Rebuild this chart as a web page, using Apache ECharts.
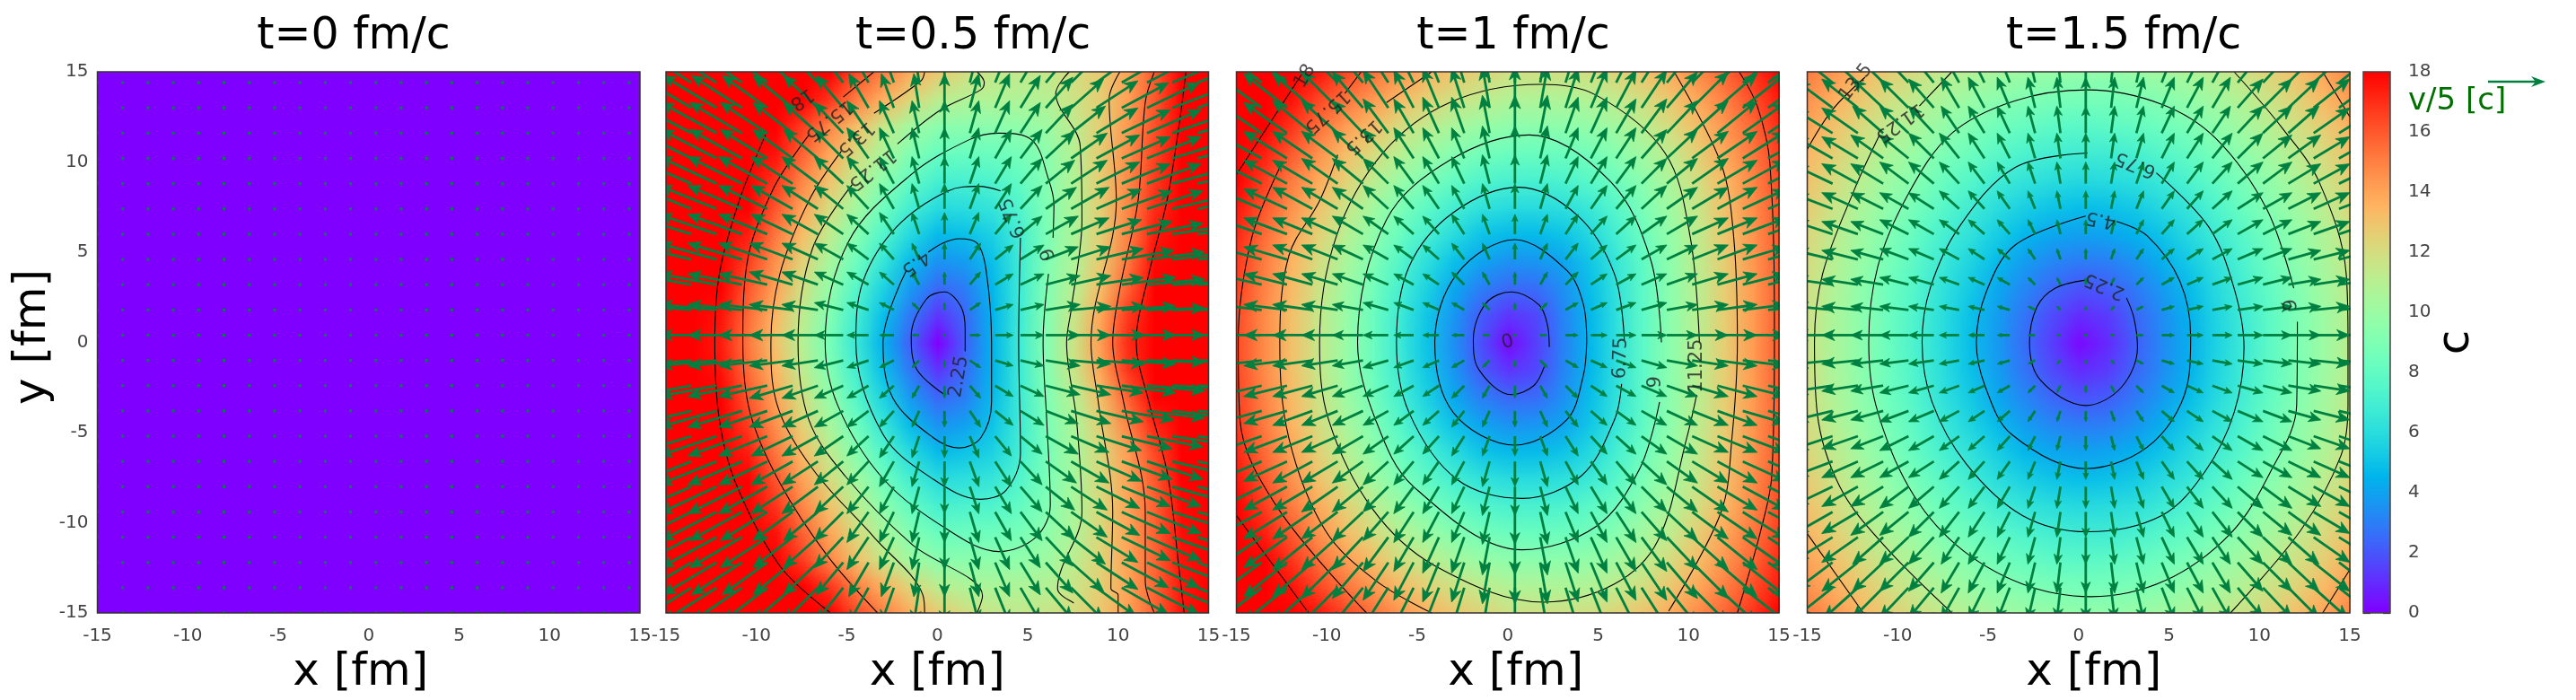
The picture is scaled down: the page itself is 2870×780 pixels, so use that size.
<!DOCTYPE html>
<html><head><meta charset="utf-8">
<script src="https://cdn.jsdelivr.net/npm/echarts@6/dist/echarts.min.js"></script>
<style>html,body{margin:0;background:#fff}#c{width:2870px;height:780px}</style></head>
<body><div id="c"></div>
<script>
const panelTitles=['t=0 fm/c','t=0.5 fm/c','t=1 fm/c','t=1.5 fm/c'];
const axisTicks=[-15,-10,-5,0,5,10,15];
const contourLevels=[2.25,4.5,6.75,9,11.25,13.5,15.75,18];

/* colour field, y from 15 down to -15, x from -15 to 15 in 1.5 fm steps */
const fieldT0=[[0]];
const fieldT05=[
[28,26,24,22.4,21,19.5,18,16.3,15,13.7,12.8,12,11.5,11.4,11.5,12,12.8,14,16,18,20],
[27,25,23.3,21.5,20,18.5,16.8,15,13.6,12.3,11.2,10.8,10.8,10.7,10.9,11.7,12.6,14.1,16,18,20.3],
[26.4,24.3,22.3,20.3,18.5,16.6,14.8,13.1,11.5,10.2,9.4,9.4,9.4,9.6,10.1,11.2,12.6,14.3,16.2,18.2,20.3],
[25.7,23.6,21.5,19.5,17.6,15.7,13.9,12.1,10.5,9.1,8.2,8.2,8.3,8.7,9.4,10.9,12.7,14.6,16.5,18.5,20.5],
[25,23,21,18.7,16.8,14.8,13,11.1,9.4,8,7,7.1,7.3,8,9.2,10.8,12.7,14.7,16.7,18.8,21],
[24.2,22,20,18,16,14,12,10.2,8.4,6.9,5.9,6,6.4,7.4,9,10.7,12.6,14.8,17,19.2,21.5],
[23.6,21.5,19.3,17.3,15.2,13.2,11.2,9.2,7.4,5.8,4.7,4.9,5.5,6.9,8.9,10.6,12.6,14.9,17.4,19.7,22],
[23,20.9,18.7,16.6,14.5,12.4,10.4,8.4,6.4,4.7,3.5,3.8,4.9,6.7,9,10.7,12.8,15.2,17.8,20.2,22.5],
[22.5,20.3,18,16,14,11.8,9.7,7.5,5.5,3.7,2.4,2.9,4.6,6.7,9.1,11,13.2,15.8,18.5,21,23.2],
[22,19.9,17.6,15.5,13.4,11.2,9.1,6.9,4.8,2.8,1.2,2.4,4.5,6.7,9.2,11.5,13.9,16.7,19.3,21.8,24],
[21.8,19.6,17.4,15.2,13,10.9,8.7,6.5,4.4,2.2,0,2.2,4.5,6.75,9.2,11.7,14.2,17,19.5,22,24],
[22,19.9,17.6,15.5,13.4,11.2,9.1,6.9,4.8,2.8,1.2,2.5,4.5,6.7,9.2,11.6,14,16.8,19.4,21.9,24],
[22.5,20.3,18,16,14,11.8,9.7,7.5,5.5,3.7,2.4,3,4.7,6.7,9,11,13.2,15.8,18.2,20.8,23],
[23,20.9,18.7,16.6,14.5,12.4,10.4,8.4,6.4,4.7,3.5,3.9,5,6.7,8.8,10.6,12.6,14.9,17.2,19.4,21.6],
[23.6,21.5,19.3,17.3,15.2,13.2,11.2,9.2,7.4,5.8,4.7,5,5.5,6.9,8.7,10.4,12.2,14.2,16.4,18.5,20.7],
[24.2,22,20,18,16,14,12,10.2,8.4,6.9,5.9,6.1,6.4,7.4,8.8,10.4,12.2,14,16,18,20.2],
[25,23,21,18.7,16.8,14.8,13,11.1,9.4,8,7,7.2,7.3,8,9.1,10.5,12.2,14,15.8,17.8,19.8],
[25.7,23.6,21.5,19.5,17.6,15.7,13.9,12.1,10.5,9.1,8.2,8.3,8.4,8.7,9.5,10.7,12.3,14,15.8,17.7,19.6],
[26.4,24.3,22.3,20.3,18.5,16.6,14.8,13.1,11.5,10.2,9.4,9.4,9.5,9.6,10.1,11.1,12.4,14,15.7,17.6,19.4],
[27,25,23.3,21.5,20,18.5,16.8,15,13.6,12.3,11.2,10.7,10.6,10.7,10.9,11.6,12.6,14,15.7,17.5,19.3],
[28,26,24,22.4,21,19.5,18,16.3,15,13.7,12.8,12,11.5,11.4,11.6,12.1,12.9,14.1,15.8,17.6,19.3]];
/* upper half only, y from 15 to 0; the lower half reads the same rows */
const fieldT1Upper=[
[21,19.8,18.6,17.5,16.4,15.4,14.4,13.6,12.9,12.4,11.8,11.8,11.8,11.9,12.4,13,13.8,14.7,15.7,16.8,18],
[20.2,18.9,17.6,16.4,15.3,14.3,13.3,12.5,11.8,11.3,10.8,10.7,10.7,10.8,11.3,12,12.9,13.9,15,16.2,17.4],
[19.4,18.1,16.8,15.4,14.2,13.2,12,11.3,10.4,9.9,9.5,9.4,9.5,9.7,10.3,11.1,12.1,13.2,14.4,15.6,17],
[18.7,17.3,15.9,14.5,13.2,12.1,11,10,9.2,8.6,8.3,8.2,8.3,8.6,9.3,10.3,11.3,12.6,13.9,15.2,16.6],
[18.1,16.6,15.1,13.8,12.5,11.2,9.9,8.9,8,7.4,7.1,7.1,7.2,7.7,8.4,9.5,10.7,12,13.4,14.8,16.3],
[17.5,16,14.5,13,11.6,10.2,8.9,7.8,6.9,6.2,5.9,5.9,6.1,6.6,7.6,8.9,10.2,11.6,13.1,14.6,16.1],
[17.1,15.5,14,12.5,11,9.6,8.2,7,5.9,5,4.7,4.7,5,5.8,7,8.4,9.8,11.3,12.9,14.4,16],
[16.7,15.1,13.5,12,10.5,9,7.5,6.1,4.9,4,3.5,3.6,4,5.1,6.5,8,9.6,11.2,12.7,14.3,15.9],
[16.5,14.9,13.3,11.7,10.1,8.6,7,5.5,4.1,3,2.4,2.5,3.4,4.8,6.3,7.9,9.5,11.1,12.7,14.2,15.9],
[16.3,14.7,13.1,11.5,9.9,8.3,6.7,5.1,3.6,2.1,1.2,1.6,3.1,4.6,6.2,7.9,9.5,11.1,12.7,14.2,15.9],
[16.3,14.7,13.1,11.5,9.9,8.3,6.6,5,3.4,1.8,0.2,1.4,3,4.6,6.2,7.9,9.5,11.1,12.7,14.2,15.9]];
const fieldT15Upper=[
[15.1,14.3,13.4,12.6,12,11.3,10.8,10.3,10,9.8,9.7,9.7,9.9,10.2,10.6,11.1,11.7,12.4,13.1,13.9,14.8],
[14.5,13.6,12.8,11.9,11.2,10.5,9.9,9.4,9,8.8,8.7,8.7,8.9,9.2,9.7,10.3,10.9,11.7,12.4,13.3,14.2],
[14,13,12.1,11.2,10.5,9.7,9.1,8.5,8.1,7.8,7.7,7.8,8,8.4,8.9,9.5,10.2,11,11.8,12.6,13.6],
[13.4,12.5,11.5,10.6,9.8,8.9,8.3,7.7,7.2,6.9,6.8,6.8,7,7.5,8,8.7,9.5,10.3,11.2,12.1,13.1],
[13,12,11,10,9.2,8.2,7.5,6.8,6.3,6,5.8,5.9,6.1,6.6,7.2,8,8.8,9.7,10.6,11.6,12.6],
[12.6,11.6,10.5,9.5,8.6,7.6,6.8,6,5.4,5,4.8,4.9,5.2,5.8,6.4,7.3,8.2,9.2,10.1,11.1,12.2],
[12.2,11.2,10.1,9,8,7,6.2,5.3,4.6,4.1,3.9,4,4.4,5,5.8,6.7,7.6,8.6,9.7,10.7,11.8],
[12,10.9,9.8,8.7,7.7,6.6,5.6,4.7,3.8,3.2,2.9,3,3.5,4.3,5.2,6.2,7.2,8.3,9.4,10.4,11.6],
[11.8,10.7,9.5,8.4,7.4,6.2,5.2,4.1,3.2,2.4,1.9,2.1,2.8,3.7,4.7,5.8,6.9,8,9.1,10.2,11.4],
[11.7,10.5,9.4,8.3,7.2,6,4.9,3.8,2.7,1.7,1,1.3,2.3,3.3,4.4,5.6,6.7,7.8,8.9,10,11.2],
[11.6,10.5,9.4,8.2,7.1,5.9,4.8,3.7,2.5,1.4,0.2,0.9,2.1,3.2,4.3,5.5,6.6,7.8,8.9,10,11.2]];

/* arrow components in 0.1 fm; rows by |row offset from y=0.4|, columns by column offset from x=0.4 */
const vxT0=[],vyT0=[];
const vxT05=[
[33,33,32,30,27,24,20,16,12,8,4,0,6,10,13,19,22,27,30,32,33,33],
[33,33,32,30,27,24,20,16,12,8,4,0,6,10,13,19,22,27,30,32,33,33],
[33,33,32,30,27,24,20,16,12,8,4,0,6,10,13,19,22,26,30,32,33,33],
[33,33,32,30,27,24,20,16,12,8,4,0,6,10,13,18,22,26,29,32,33,33],
[33,32,32,30,27,23,20,16,12,8,4,0,5,9,12,18,21,25,28,31,33,33],
[33,32,32,30,27,23,20,16,12,8,4,0,5,9,12,17,21,25,28,31,33,33],
[33,32,32,30,27,23,20,16,12,8,4,0,5,9,12,16,20,24,27,30,32,33],
[32,32,31,29,26,22,19,16,12,8,4,0,5,9,12,16,20,24,27,30,32,32],
[32,32,31,29,26,22,19,16,12,8,4,0,5,8,11,15,19,23,27,30,31,32],
[31,30,30,28,25,22,19,15,11,7,3,0,5,8,11,15,18,23,26,29,31,32],
[31,30,30,28,25,22,19,15,11,7,3,0,5,8,11,15,18,22,26,29,31,32],
[31,30,30,28,25,22,19,15,11,7,3,0,5,8,11,14,17,22,25,28,30,31]];
const vyT05=[
[0,0,0,0,0,0,0,0,0,0,0,0,0,0,0,0,0,0,0,0,0,0],
[3,3,3,3,3,3,3,4,4,4,4,4,4,3,3,3,2,2,2,1,1,1],
[6,6,6,6,6,7,7,7,7,7,7,7,7,6,6,5,5,4,4,3,2,2],
[8,8,9,9,9,9,9,9,9,9,9,9,9,8,8,7,7,6,5,4,4,3],
[10,10,11,11,11,11,11,11,11,12,12,12,12,11,10,10,9,8,7,6,5,5],
[12,13,13,13,13,13,13,13,13,14,14,14,14,14,13,12,12,11,10,10,8,7],
[14,14,15,15,15,15,15,15,15,15,15,15,15,15,14,13,13,12,11,11,9,8],
[15,16,16,16,16,16,16,16,17,17,17,17,17,16,16,15,14,13,12,12,10,9],
[16,17,17,17,17,17,17,17,18,18,18,18,18,18,17,16,15,14,13,13,11,10],
[17,18,18,18,18,18,18,18,19,19,19,19,19,19,18,17,16,15,14,14,12,12],
[18,19,19,19,19,19,19,19,20,20,20,20,20,20,19,18,18,16,15,15,13,13],
[19,20,20,20,20,20,20,20,21,21,21,21,21,21,20,19,19,17,16,16,14,14]];
/* t=1 and t=1.5: columns by |column offset|, the two sides read alike */
const vxT1=[
[0,4,7,9,11,14,17,20,22,24,26,27],[0,4,7,9,11,14,17,20,22,24,26,27],[0,4,7,9,11,14,17,20,22,24,26,27],
[0,4,7,9,11,14,17,20,22,24,26,27],[0,4,7,9,11,14,17,20,22,24,26,27],[0,4,7,9,11,14,17,20,22,24,26,27],
[0,4,7,9,11,14,17,20,22,24,26,27],[0,4,7,9,11,14,17,20,22,24,26,27],[0,4,7,9,11,14,17,20,22,24,25,26],
[0,4,7,9,11,14,17,20,22,24,25,26],[0,4,7,9,11,14,17,20,22,24,25,26],[0,4,7,9,11,14,17,20,22,24,25,26]];
const vyT1=[
[0,0,0,0,0,0,0,0,0,0,0,0],[4,4,4,4,4,4,3,3,3,3,3,3],[7,7,7,6,6,6,6,6,6,6,6,5],[9,9,9,8,8,8,8,8,8,7,7,7],
[11,11,11,10,10,10,10,9,9,9,9,9],[14,14,13,13,13,13,12,12,12,11,11,11],[16,16,15,15,15,14,14,14,13,13,13,12],
[18,18,17,17,17,16,16,15,15,15,14,14],[21,21,20,20,19,19,18,18,18,17,17,16],[23,23,22,22,21,21,20,20,19,19,18,18],
[24,24,23,23,22,22,21,20,20,19,19,18],[25,25,24,24,23,23,22,21,21,20,20,19]];
const vxT15=[
[0,2,4,7,9,11,14,16,18,20,21,22],[0,2,4,7,9,11,14,16,18,20,21,22],[0,2,4,7,9,11,14,16,18,20,21,22],
[0,2,4,7,9,11,14,16,18,20,21,22],[0,2,4,7,9,11,14,16,18,20,21,22],[0,2,4,7,9,11,14,16,18,20,21,22],
[0,2,4,7,9,11,14,16,18,20,21,22],[0,2,4,7,9,11,14,16,18,20,21,21],[0,2,4,7,9,10,14,16,17,20,21,21],
[0,2,4,7,9,10,14,16,17,20,20,21],[0,2,4,7,9,10,14,16,17,19,20,20],[0,2,4,7,9,10,14,16,17,19,20,20]];
const vyT15=[
[0,0,0,0,0,0,0,0,0,0,0,0],[2,2,2,2,2,2,2,2,2,2,2,2],[4,4,4,4,4,4,4,4,3,3,3,3],[6,6,6,6,6,6,6,6,5,5,5,5],
[8,8,8,8,8,8,8,8,7,7,7,7],[10,10,10,10,10,10,9,9,9,9,8,8],[12,12,12,12,12,12,12,12,11,11,10,10],
[14,14,14,14,14,14,14,13,13,12,12,12],[15,15,15,15,15,15,15,15,15,14,13,13],[17,17,17,17,17,17,16,16,16,16,15,15],
[18,18,18,18,18,18,17,17,17,17,16,16],[19,19,19,19,19,18,18,18,18,17,17,17]];

/* contour lines, one list per unbroken stretch */
const contoursT05=[
[[1.54,-0.5],[1.54,0.75],[1.3,2],[0.4,2.8],[-0.6,2.4],[-1.44,0.35],[-1.13,-1.5],[0.4,-2.9]],
[[-0.5,5],[0.3,5.5],[1.2,5.75],[2.2,5.5],[2.7,4],[3,0],[3,-3.3],[2.4,-5.3],[1.2,-5.85],[-0.2,-5.3],[-2.45,-3.1],[-3,0],[-1.7,4]],
[[4.6,5.8],[4.5,0],[4.6,-6.15],[3.8,-8.2],[2.4,-8.7],[-0.2,-7.6],[-3,-5.1],[-4.5,0],[-4.1,3.4],[-2.25,6.4],[0.6,8.4],[2.3,8.65],[3.5,8.4]],
[[6.15,3.8],[5.85,0],[6.05,-4.3],[6.25,-9],[5.45,-10.8],[3.4,-11.6],[0.6,-10.4],[-3,-7.55],[-5.5,-3.5],[-6.2,0],[-4.9,5.6],[-1.45,9.3],[1.8,11.25],[3.4,11.6],[5.25,11.2],[6.15,9.05],[6.45,7.65],[6.4,5.8]],
[[2.2,15],[2.6,14.4],[2.4,14],[0.2,12.9],[-2.2,11]],[[-4.7,8.75],[-6.9,5.2],[-7.7,0],[-7.1,-4.3],[-5.1,-7.4],[-1.4,-11.2],[2.5,-14.05],[2.2,-15]],
[[7.3,15],[6.55,13.8],[7.9,10.9],[8,6.8],[7.4,1.8],[7.15,0],[7.7,-4.3],[8,-9.4],[6.65,-13.65],[6.85,-14],[7.55,-14.45]],
[[-0.7,15],[-0.9,14.5],[-3.5,12.7]],[[-5.3,10.6],[-7.1,7.85],[-8.7,3.8],[-9.2,0],[-8.9,-3.3],[-6.9,-7],[-3.5,-10.8],[-0.8,-14],[-0.7,-15]],
[[10.1,15],[9.5,13.5],[9.9,7.85],[8.5,0],[8.9,-3.3],[9.7,-9.4],[9.6,-13.65],[10,-14],[10,-15]],
[[-3.5,15],[-5.2,13.6]],[[-7.1,11.5],[-9.1,8.45],[-10.55,4.2],[-10.75,0],[-10.35,-3.9],[-8.7,-7.8],[-6.1,-11.8],[-3.3,-15]],
[[12,15],[11.5,13.3],[11.1,7.85],[10.1,3],[9.7,0],[10.3,-3.3],[11.5,-9.4],[11.5,-13.25],[12,-15]],
[[-9.5,11.5],[-10.95,7.85],[-12.05,3.8],[-12.3,0],[-12.05,-4.3],[-11.15,-7.8],[-8.7,-12.4],[-5.9,-15]],
[[13.75,15],[13.35,11.9],[12.7,7.85],[11.7,3.8],[11,0],[11.7,-3.3],[12.75,-7.4],[13.35,-12.4],[13.65,-15]]];
const contoursT1=[
[[2.3,-0.26],[2.2,0.95],[1.74,2.07],[0.2,2.8],[-1.2,2.17],[-1.9,0.14],[-1.6,-1.5],[0.2,-2.9],[1.44,-2.4],[2.04,-1.3]],
[[4.37,0],[4.17,2.17],[3.26,4],[0.4,5.7],[-2.8,3.8],[-4.03,0],[-3,-3.9],[0.4,-5.7],[3.26,-4.3],[4.17,-1.9],[4.37,0]],
[[6.45,0.14],[5.9,3.8],[3.9,7],[0.6,8.6],[-3,7.2],[-5.45,4.2],[-6.15,0],[-5.45,-3.9],[-2.8,-7.6],[0.8,-8.65],[4.07,-7.4],[5.9,-4.3],[6.3,-2.3]],
[[8.5,0],[7.9,4.6],[5.7,8.9],[1.2,11.5],[-3.2,10.1],[-6.7,6.8],[-8.3,0],[-7.3,-4.3],[-5.2,-8],[0.8,-11.5],[4.9,-10.2],[7.3,-7],[8.4,-3.3]],
[[10.6,0],[10.1,5.8],[8.7,10.5],[4.9,13.7],[1.8,14.3],[-3.2,13.3],[-6.9,10.5],[-9.5,5.8],[-10.4,0],[-9.9,-4.3],[-7.5,-9.2],[-4,-12.4],[2,-14.4],[5.9,-13.4],[8.3,-11],[9.9,-5.3],[10.45,-2.9]],
[[-4.2,15],[-6.7,13.3]],[[-9.4,10.4],[-10.4,7.85],[-12.1,4.8],[-12.6,0],[-12.1,-5.3],[-10.1,-10.4],[-7.3,-13.2],[-4.2,-15]],
[[9.2,15],[11.8,9.9],[12.5,5.8],[12.7,0],[12.4,-5.3],[11.8,-9.4],[8.9,-14.9]],
[[-8.1,15],[-9,13.8]],[[-12.5,9.9],[-14.15,5.8],[-14.9,0],[-14.8,-4.3],[-12.7,-9.2],[-7.8,-15]],
[[12.8,15],[13.8,13.1],[14.5,9.9],[14.75,0],[14.6,-7.4],[14,-10.4],[12.7,-15]],
[[-11.3,15],[-15,9.3]],[[-15,-9.6],[-11,-15]]];
const contoursT15=[
[[0.4,3.45],[-1.3,3],[-2.3,1.96],[-2.71,0],[-2.1,-2.1],[0.4,-3.5],[2.36,-2.5],[3.26,-0.26],[3.06,1.36],[2.65,2.47]],
[[0.4,7],[-3.5,5.4],[-5.1,2.8],[-5.65,0],[-5.14,-2.5],[-3.7,-5.1],[0.4,-7],[4.17,-5.5],[6.1,-1.9],[6.2,0.35],[5.6,3.4],[3.8,5.9],[2.1,6.7]],
[[0.5,10.5],[-3.5,9.7],[-6.6,6.4],[-8.2,3],[-8.65,0],[-8.1,-3.3],[-6.2,-6.75],[-3.1,-9.6],[0.5,-10.5],[4.6,-9.6],[7,-7.15],[8.6,-3.9],[9.15,-0.3],[8.6,3],[7.2,6.4],[4.3,9.4]],
[[12.1,1.15],[12.06,-3.5],[10.6,-7.2],[8.4,-10.6],[4.8,-13.2],[0.7,-14.1],[-3.1,-13.4],[-6.8,-11.2],[-9.4,-8],[-11.2,-3.5],[-11.6,0],[-11.1,4.2],[-9.4,8.25],[-7,11.6],[-3.5,13.4],[0.5,14],[4.6,13.2],[7.6,11.3],[10.4,7.4],[11.9,3]],
[[-11,11.5],[-12.4,8.45],[-14.15,3.8],[-14.6,0],[-14.45,-3.9],[-13.2,-8],[-10.8,-11.2],[-7,-15]],
[[-8.8,13.1],[-7,15]],
[[8.6,15],[11.25,11.9],[13.3,8.9],[14.8,3.8],[14.9,0.1],[14.9,-3.5],[14.5,-6.3],[12.3,-10.4],[8.4,-15]],
[[-15,10.7],[-13.6,12.9],[-11.8,14.7]],[[-15,-10.6],[-11.9,-15]],[[13.5,15],[15,12.5]],[[15,-12.6],[13.5,-15]]];

/* contour labels: x, y, text, rotation in degrees */
const labelsT05=[[-7.5,13.5,'18',215],[-6,12.3,'15.75',218],[-4.5,11.3,'13.5',222],[-3.6,9.6,'11.25',218],[4.2,6.9,'6.75',112],[6.15,4.9,'9',110],[-1.2,4.4,'4.5',215],[1.2,-1.9,'2.25',80]];
const labelsT1=[[0,0,'0',15],[6.25,-0.87,'6.75',88],[8.2,-2.2,'9',90],[10.45,-1.3,'11.25',90],[-8,11.4,'13.5',223],[-10,12.8,'15.75',223],[-11.2,14.75,'18',60]];
const labelsT15=[[1.44,3.14,'2.25',157],[1.24,6.82,'4.5',169],[3.16,9.87,'6.75',158],[11.76,2.07,'9',95],[-9.9,12.2,'11.25',215],[-12.3,14.4,'13.5',52]];

const ARROW='#008040';
const panels=[
 {left:108.5,title:389,field:fieldT0,vx:vxT0,vy:vyT0,contours:[],labels:[],pad:[0,18,0,0]},
 {left:742,title:1079,field:fieldT05,vx:vxT05,vy:vyT05,contours:contoursT05,labels:labelsT05,pad:[0,0,0,0]},
 {left:1377.5,title:1681,field:fieldT1Upper.concat(fieldT1Upper.slice(0,-1).reverse()),vx:vxT1,vy:vyT1,contours:contoursT1,labels:labelsT1,pad:[0,0,0,18]},
 {left:2013.5,title:2361,field:fieldT15Upper.concat(fieldT15Upper.slice(0,-1).reverse()),vx:vxT15,vy:vyT15,contours:contoursT15,labels:labelsT15,pad:[0,0,0,34]}
];
const PW=604.5,PH=603,PT=80;
const FONT='"DejaVu Sans"';

function rgb(v){const x=Math.max(0,Math.min(1,v/18));
 return [Math.min(1,Math.abs(2*x-.5))*255,Math.sin(Math.PI*x)*255,Math.cos(Math.PI*x/2)*255];}
function fieldCanvas(rows){const h=rows.length,w=rows[0].length,c=document.createElement('canvas');c.width=w;c.height=h;
 const g=c.getContext('2d'),im=g.createImageData(w,h);
 rows.forEach((r,j)=>r.forEach((v,i)=>{const p=rgb(v),o=4*(j*w+i);im.data[o]=p[0];im.data[o+1]=p[1];im.data[o+2]=p[2];im.data[o+3]=255;}));
 g.putImageData(im,0,0);return c;}
const barRows=[];for(let k=0;k<=18;k+=0.05)barRows.unshift([k]);

function arrowData(p){const out=[];
 for(let k=0;k<22;k++)for(let m=0;m<22;m++){const i=k-11,j=m-11,r=Math.abs(j);
  const pick=t=>{const row=t[r];if(!row)return 0;return row.length===12?row[Math.abs(i)]:row[k];};
  out.push([-15+1.4*k,-15+1.4*m,Math.sign(i)*pick(p.vx)/10,Math.sign(j)*pick(p.vy)/10]);}
 return out;}
function renderArrow(params,api){
 const a=api.coord([api.value(0),api.value(1)]),b=api.coord([api.value(0)+api.value(2),api.value(1)+api.value(3)]);
 const dx=b[0]-a[0],dy=b[1]-a[1],len=Math.hypot(dx,dy);
 if(len<1)return {type:'rect',shape:{x:a[0]-1.5,y:a[1]-1.5,width:3,height:3},style:{fill:ARROW}};
 const ux=dx/len,uy=dy/len,L=Math.min(15,len*.36),W=L*.42;
 const bx=b[0]-ux*L,by=b[1]-uy*L,nx=b[0]-ux*L*.72,ny=b[1]-uy*L*.72;
 return {type:'group',children:[
  {type:'line',shape:{x1:a[0],y1:a[1],x2:nx,y2:ny},style:{stroke:ARROW,lineWidth:2.8,fill:null}},
  {type:'polygon',shape:{points:[b,[bx-uy*W,by+ux*W],[nx,ny],[bx+uy*W,by-ux*W]]},style:{fill:ARROW,stroke:ARROW,lineWidth:.8}}]};
}
function imageSeries(canvas,xi,yi,xr,yr){return {type:'custom',xAxisIndex:xi,yAxisIndex:yi,clip:true,z:1,silent:true,
 data:[[xr[0],yr[1]]],encode:{x:0,y:1},
 renderItem(params,api){const p0=api.coord([xr[0],yr[1]]),p1=api.coord([xr[1],yr[0]]);
  return {type:'image',style:{image:canvas,x:p0[0],y:p0[1],width:p1[0]-p0[0],height:p1[1]-p0[1]}};}};}

const grid=[],xAxis=[],yAxis=[],series=[],title=[];
panels.forEach((p,n)=>{
 grid.push({left:p.left,top:PT,width:PW,height:PH,outerBoundsMode:'none',containLabel:false,show:true,z:10,backgroundColor:'transparent',borderColor:'#333',borderWidth:1.5});
 xAxis.push({type:'value',gridIndex:n,min:-15,max:15,interval:5,splitLine:{show:false},axisLine:{show:false},axisTick:{show:false},
  axisLabel:{fontFamily:FONT,fontSize:20,color:'#444',margin:16,customValues:axisTicks},
  name:'x [fm]',nameLocation:'center',nameGap:42,nameTextStyle:{fontFamily:FONT,fontSize:50,color:'#000',padding:p.pad}});
 yAxis.push({type:'value',gridIndex:n,min:-15,max:15,interval:5,splitLine:{show:false},axisLine:{show:false},axisTick:{show:false},
  axisLabel:{show:n===0,fontFamily:FONT,fontSize:20,color:'#444',margin:10},
  name:n===0?'y [fm]':'',nameLocation:'center',nameGap:29,nameRotate:90,nameTextStyle:{fontFamily:FONT,fontSize:50,color:'#000',padding:[0,0,0,12]}});
 title.push({text:panelTitles[n],left:p.title,top:12,textAlign:'center',textStyle:{fontFamily:FONT,fontSize:49,fontWeight:'normal',color:'#000'}});
 const rows=p.field,cw=rows[0].length>1?1.5:0,ext=cw?15.75:15;
 series.push(imageSeries(fieldCanvas(rows),n,n,[-ext,ext],[-ext,ext]));
 p.contours.forEach(seg=>series.push({type:'line',xAxisIndex:n,yAxisIndex:n,data:seg,symbol:'none',smooth:.35,clip:true,z:2,silent:true,lineStyle:{color:'#000',width:1.1}}));
 series.push({type:'custom',xAxisIndex:n,yAxisIndex:n,clip:true,z:3,silent:true,data:arrowData(p),encode:{x:0,y:1},renderItem:renderArrow});
 if(p.labels.length)series.push({type:'scatter',xAxisIndex:n,yAxisIndex:n,symbolSize:1,z:4,silent:true,itemStyle:{color:'transparent'},
  data:p.labels.map(l=>({value:[l[0],l[1]],label:{show:true,position:'inside',formatter:l[2],rotate:l[3],fontFamily:FONT,fontSize:21,color:'#222'}}))});
});
/* colour bar */
grid.push({left:2633,top:PT,width:30,height:PH,outerBoundsMode:'none',containLabel:false,show:true,z:10,backgroundColor:'transparent',borderColor:'#444',borderWidth:1.5});
xAxis.push({type:'value',gridIndex:4,min:0,max:1,show:false});
const cbTick={show:true,inside:true,length:8,lineStyle:{color:'#222',width:1.2}};
yAxis.push({type:'value',gridIndex:4,min:0,max:18,interval:2,position:'left',splitLine:{show:false},axisLine:{show:false},axisTick:cbTick,axisLabel:{show:false}});
yAxis.push({type:'value',gridIndex:4,min:0,max:18,interval:2,position:'right',splitLine:{show:false},axisLine:{show:false},axisTick:cbTick,
 axisLabel:{fontFamily:FONT,fontSize:20,color:'#444',margin:20},
 name:'c',nameLocation:'center',nameGap:49,nameRotate:90,nameTextStyle:{fontFamily:FONT,fontSize:50,color:'#000'}});
series.push(imageSeries(fieldCanvas(barRows),4,5,[0,1],[0,18]));

echarts.init(document.getElementById('c'),null,{renderer:'canvas'}).setOption({
 animation:false,backgroundColor:'#fff',title,grid,xAxis,yAxis,series,
 graphic:[
  {type:'text',left:2683,top:96,style:{text:'v/5 [c]',fontFamily:FONT,fontSize:34,fill:'#007000'}},
  {type:'line',shape:{x1:2772,y1:91,x2:2826,y2:91},style:{stroke:ARROW,lineWidth:2.6}},
  {type:'polygon',shape:{points:[[2836,91],[2820,85],[2825,91],[2820,97]]},style:{fill:ARROW}}
 ]});
</script></body></html>
